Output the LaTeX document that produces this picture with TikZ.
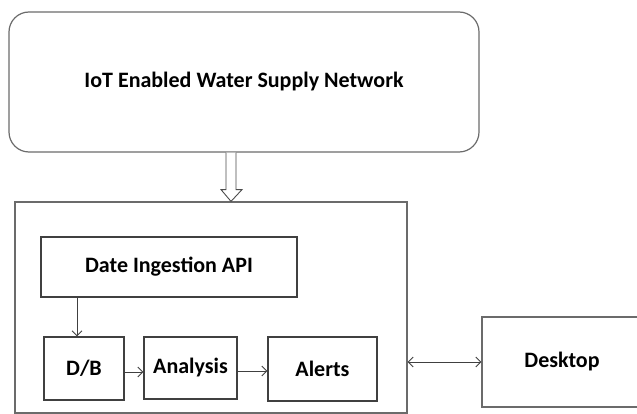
\documentclass[tikz,border=0pt]{standalone}
\usepackage{fontspec}
\setmainfont{Carlito}
\usetikzlibrary{arrows.meta,calc}
\begin{document}
\begin{tikzpicture}[x=1pt,y=-1pt,
  every node/.style={font=\bfseries\fontsize{22}{26}\selectfont, text=black, inner sep=0pt},
  outerbox/.style={draw=black!58, line width=1.2pt},
  innerbox/.style={draw=black!75, line width=1.2pt},
  arr/.style={draw=black!75, line width=0.9pt, -{Straight Barb[length=5pt,width=10pt]}},
  darr/.style={draw=black!75, line width=0.9pt, {Straight Barb[length=5pt,width=10pt]}-{Straight Barb[length=5pt,width=10pt]}},
  hollow/.style={draw=black!70, line width=0.9pt, fill=white}]
\useasboundingbox (0,0) rectangle (637,414);
\node[outerbox, rounded corners=20pt, minimum width=470pt, minimum height=140pt] (net) at (244,82) {IoT Enabled Water Supply Network};
\node[outerbox, minimum width=392pt, minimum height=211pt] (main) at (211,307.5) {};
\node[innerbox, minimum width=256pt, minimum height=60pt] (api) at (169,267) {Date Ingestion API};
\node[innerbox, minimum width=80pt, minimum height=63pt] (db) at (84,368.5) {D/B};
\node[innerbox, minimum width=93pt, minimum height=62pt] (ana) at (190.5,368) {Analysis};
\node[innerbox, minimum width=109pt, minimum height=64pt] (alr) at (322.5,369) {Alerts};
\node[outerbox, minimum width=160pt, minimum height=90pt] (desk) at (562,362) {Desktop};
% hollow arrow from network to main box
\draw[hollow] ($(net.south)+(-18,0)$) -- ($(net.south)+(-18,37)$)
  -- ($(net.south)+(-23,37)$) -- ($(main.north)+(20,0)$)
  -- ($(net.south)+(-2,37)$) -- ($(net.south)+(-8,37)$) -- ($(net.south)+(-8,0)$);
% arrows
\draw[arr] ([xshift=-7pt]db.north |- api.south) -- ([xshift=-7pt]db.north);
\draw[arr] ($(db.east)+(0,3.5)$) -- ($(db.east -| ana.west)+(0,3.5)$);
\draw[arr] ($(ana.east)+(0,3)$) -- ($(ana.east -| alr.west)+(0,3)$);
\draw[darr] (desk.west -| main.east) -- (desk.west);
\end{tikzpicture}
\end{document}
